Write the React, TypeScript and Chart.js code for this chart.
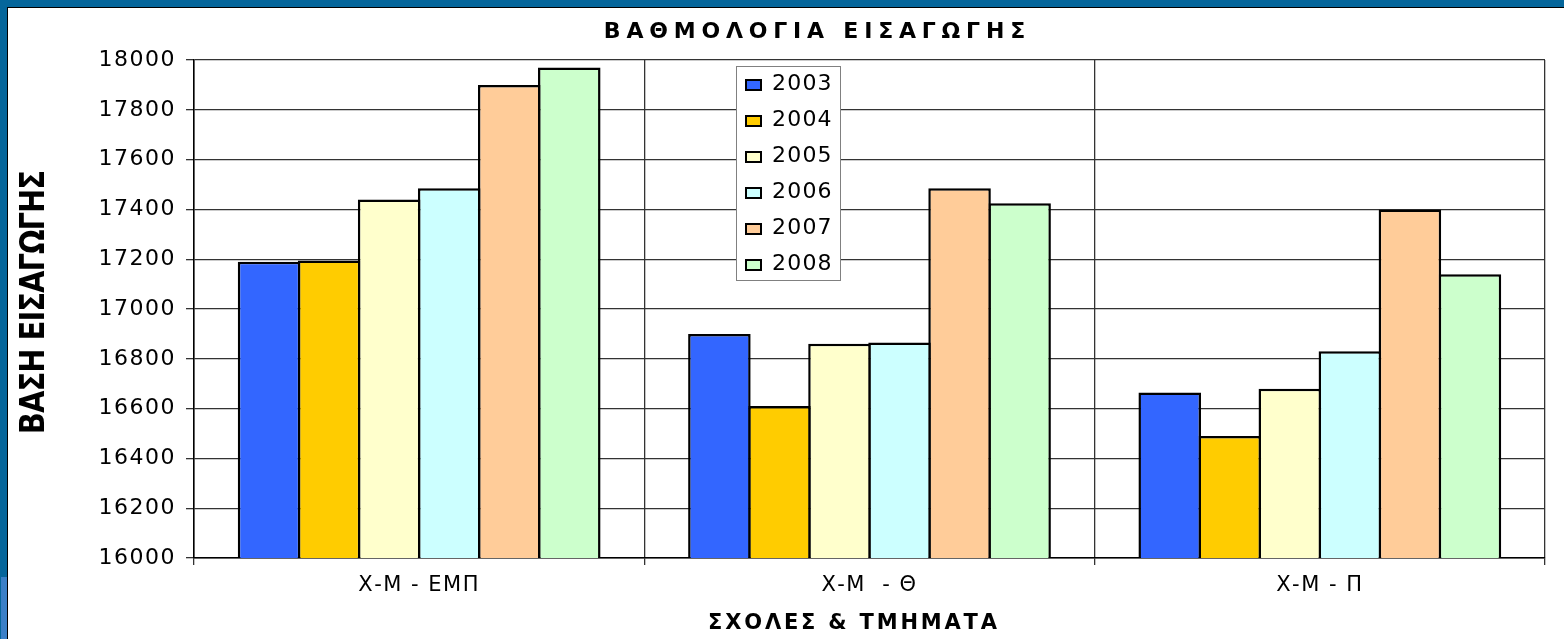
import { useEffect, useRef } from "react";
import { Chart, registerables } from "chart.js";

Chart.register(...registerables);

const FONT = '"DejaVu Sans", "Liberation Sans", Arial, sans-serif';

const chartTitle = "ΒΑΘΜΟΛΟΓΙΑ ΕΙΣΑΓΩΓΗΣ";
const xTitle = "ΣΧΟΛΕΣ & ΤΜΗΜΑΤΑ";
const yTitle = "ΒΑΣΗ ΕΙΣΑΓΩΓΗΣ";

const categories = ["Χ-Μ - ΕΜΠ", "Χ-Μ  - Θ", "Χ-Μ - Π"];
const years = ["2003", "2004", "2005", "2006", "2007", "2008"];

const values2003 = [17190, 16900, 16665];
const values2004 = [17195, 16610, 16490];
const values2005 = [17440, 16860, 16680];
const values2006 = [17485, 16865, 16830];
const values2007 = [17900, 17485, 17400];
const values2008 = [17970, 17425, 17140];

const yMin = 16000;
const yMax = 18000;
const yStep = 200;

const colors = ["#3366FF", "#FFCC00", "#FFFFCC", "#CCFFFF", "#FFCC99", "#CCFFCC"];
const seriesValues = [values2003, values2004, values2005, values2006, values2007, values2008];

const spacingPlugin = {
  id: "tickSpacing",
  beforeDraw(chart: any) {
    chart.ctx.letterSpacing = "1.5px";
  },
  beforeDatasetsDraw(chart: any) {
    chart.ctx.letterSpacing = "0px";
  },
};

const legendPlugin = {
  id: "boxLegend",
  afterDraw(chart: any) {
    const ctx = chart.ctx as CanvasRenderingContext2D;
    ctx.save();
    const x0 = 728.5, y0 = 58.5, w = 104, h = 214;
    ctx.fillStyle = "#fff";
    ctx.fillRect(x0, y0, w, h);
    ctx.strokeStyle = "#808080";
    ctx.lineWidth = 1;
    ctx.strokeRect(x0, y0, w, h);
    ctx.font = `22px ${FONT}`;
    ctx.letterSpacing = "1.2px";
    ctx.textBaseline = "alphabetic";
    ctx.textAlign = "left";
    chart.data.datasets.forEach((ds: any, i: number) => {
      const base = 82 + i * 36;
      ctx.fillStyle = ds.backgroundColor;
      ctx.fillRect(738, base - 10, 15, 10);
      ctx.lineWidth = 2;
      ctx.strokeStyle = "#000";
      ctx.strokeRect(738, base - 10, 15, 10);
      ctx.fillStyle = "#000";
      ctx.fillText(ds.label, 764, base);
    });
    ctx.restore();
  },
};

function drawSpaced(ctx: CanvasRenderingContext2D, text: string, cx: number, y: number, ls: number) {
  ctx.letterSpacing = `${ls}px`;
  const w = ctx.measureText(text).width - ls;
  ctx.textAlign = "left";
  ctx.fillText(text, cx - w / 2, y);
}

const titlesPlugin = {
  id: "titles",
  afterDraw(chart: any) {
    const ctx = chart.ctx as CanvasRenderingContext2D;
    ctx.save();
    ctx.fillStyle = "#000";
    ctx.textBaseline = "alphabetic";
    ctx.font = `bold 22px ${FONT}`;
    drawSpaced(ctx, chartTitle, 806.5, 30, 5.8);
    ctx.font = `bold 21px ${FONT}`;
    drawSpaced(ctx, xTitle, 844.5, 621, 2.8);
    ctx.translate(27, 294);
    ctx.rotate(-Math.PI / 2);
    ctx.scale(1, 1.15);
    ctx.font = `bold 29px ${FONT}`;
    ctx.textBaseline = "middle";
    drawSpaced(ctx, yTitle, 0, 0, -1);
    ctx.restore();
  },
};

export default function App() {
  const ref = useRef<HTMLCanvasElement>(null);

  useEffect(() => {
    const canvas = ref.current!;
    const chart = new Chart(canvas, {
      type: "bar",
      data: {
        labels: categories,
        datasets: years.map((y, i) => ({
          label: y,
          data: seriesValues[i],
          backgroundColor: colors[i],
          borderColor: "#000",
          borderWidth: 2.5,
          borderSkipped: false,
          categoryPercentage: 0.8,
          barPercentage: 1.0416,
        })),
      },
      options: {
        responsive: false,
        animation: false,
        devicePixelRatio: 1,
        layout: { padding: { top: 52, right: 19, left: 0, bottom: 0 } },
        plugins: {
          legend: { display: false },
          title: { display: false },
          tooltip: { enabled: false },
        },
        scales: {
          x: {
            grid: { offset: true, color: "#333", lineWidth: 1.3, tickLength: 7, drawTicks: true },
            border: { color: "#000", width: 1.5 },
            ticks: { font: { size: 21, family: FONT }, color: "#000", padding: 8, maxRotation: 0, autoSkip: false },
            afterFit: (s: any) => {
              s.height = 81;
            },
          },
          y: {
            min: yMin,
            max: yMax,
            grid: { color: "#333", lineWidth: 1.3, tickLength: 8, drawTicks: true },
            border: { color: "#000", width: 1.5 },
            ticks: {
              stepSize: yStep,
              autoSkip: false,
              font: { size: 22, family: FONT },
              color: "#000",
              padding: 10,
              callback: (v: any) => String(v),
            },
            afterFit: (s: any) => {
              s.width = 186;
            },
          },
        },
      },
      plugins: [spacingPlugin, legendPlugin, titlesPlugin],
    });
    return () => chart.destroy();
  }, []);

  return (
    <div style={{ position: "fixed", left: 0, top: 0, width: 1564, height: 639, background: "#05669b", overflow: "hidden" }}>
      <div style={{ position: "absolute", left: 1, top: 577, width: 6, height: 62, background: "#3b80c8" }} />
      <div
        style={{
          position: "absolute",
          left: 7,
          top: 7,
          width: 1557,
          height: 632,
          background: "#fff",
          borderLeft: "1px solid #000",
          borderTop: "1px solid #000",
          boxSizing: "border-box",
        }}
      />
      <canvas ref={ref} width={1556} height={631} style={{ position: "absolute", left: 8, top: 8, width: 1556, height: 631 }} />
    </div>
  );
}
